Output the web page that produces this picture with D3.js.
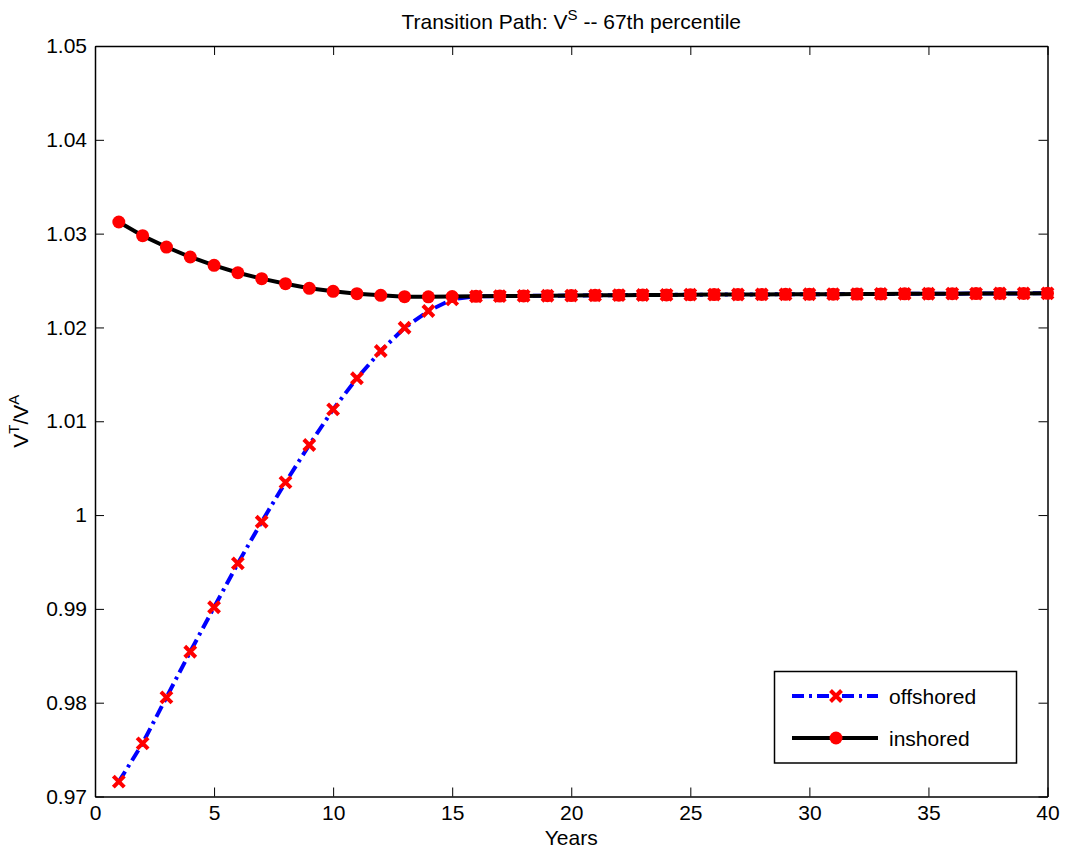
<!DOCTYPE html>
<html>
<head>
<meta charset="utf-8">
<script src="https://cdn.jsdelivr.net/npm/d3@7"></script>
<style>
  body { margin: 0; background: #fff; }
  svg text { font-family: "Liberation Sans", Arial, sans-serif; fill: #000; }
</style>
</head>
<body>
<svg id="chart" width="1065" height="857"></svg>
<script>
// data
var years = [1,2,3,4,5,6,7,8,9,10,11,12,13,14,15,16,17,18,19,20,
             21,22,23,24,25,26,27,28,29,30,31,32,33,34,35,36,37,38,39,40];

var offshored = [0.97158,0.97567,0.98057,0.98543,0.99017,0.99485,0.99929,1.00349,1.00747,1.01127,
                 1.01458,1.01749,1.01997,1.02175,1.02300,1.02332,1.02334,1.02336,1.02338,1.02340,
                 1.02342,1.02344,1.02346,1.02347,1.02349,1.02350,1.02351,1.02352,1.02353,1.02354,
                 1.02355,1.02356,1.02357,1.02358,1.02359,1.02360,1.02361,1.02362,1.02363,1.02364];

var inshored = [1.03124,1.02978,1.02857,1.02751,1.02662,1.02583,1.02520,1.02466,1.02417,1.02385,
                1.02360,1.02342,1.02328,1.02326,1.02330,1.02332,1.02334,1.02336,1.02338,1.02340,
                1.02342,1.02344,1.02346,1.02347,1.02349,1.02350,1.02351,1.02352,1.02353,1.02354,
                1.02355,1.02356,1.02357,1.02358,1.02359,1.02360,1.02361,1.02362,1.02363,1.02364];

var xTicks = [0,5,10,15,20,25,30,35,40];
var xTickLabels = ["0","5","10","15","20","25","30","35","40"];
var yTicks = [0.97,0.98,0.99,1.00,1.01,1.02,1.03,1.04,1.05];
var yTickLabels = ["0.97","0.98","0.99","1","1.01","1.02","1.03","1.04","1.05"];

var seriesNames = ["offshored","inshored"];

var plot = {left: 95, top: 46, right: 1047.5, bottom: 796.5};

var svg = d3.select("#chart");

var xScale = d3.scaleLinear().domain([0,40]).range([plot.left, plot.right]);
var yScale = d3.scaleLinear().domain([0.97,1.05]).range([plot.bottom, plot.top]);

// axes (ticks point inward like matlab)
var bottomAxis = d3.axisBottom(xScale).tickValues(xTicks)
                   .tickFormat(function(d,i){return xTickLabels[i];})
                   .tickSizeInner(-9).tickSizeOuter(0).tickPadding(9);
var topAxis = d3.axisTop(xScale).tickValues(xTicks).tickFormat("")
                .tickSizeInner(-9).tickSizeOuter(0);
var leftAxis = d3.axisLeft(yScale).tickValues(yTicks)
                 .tickFormat(function(d,i){return yTickLabels[i];})
                 .tickSizeInner(-9).tickSizeOuter(0).tickPadding(8);
var rightAxis = d3.axisRight(yScale).tickValues(yTicks).tickFormat("")
                  .tickSizeInner(-9).tickSizeOuter(0);

function styleAxis(g) {
  g.selectAll("path.domain").attr("stroke","#000").attr("stroke-width",1.5);
  g.selectAll(".tick line").attr("stroke","#000").attr("stroke-width",1);
  g.selectAll(".tick text").attr("font-size",21)
   .attr("font-family","Liberation Sans, Arial, sans-serif").attr("fill","#000");
}

svg.append("g").attr("transform","translate(0,"+plot.bottom+")").call(bottomAxis).call(styleAxis);
svg.append("g").attr("transform","translate(0,"+plot.top+")").call(topAxis).call(styleAxis);
svg.append("g").attr("transform","translate("+plot.left+",0)").call(leftAxis).call(styleAxis);
svg.append("g").attr("transform","translate("+plot.right+",0)").call(rightAxis).call(styleAxis);

// lines
var line = d3.line()
             .x(function(d,i){return xScale(years[i]);})
             .y(function(d){return yScale(d);});

var crossPath = "M-5.5,-5.5L5.5,5.5M-5.5,5.5L5.5,-5.5";

// offshored: blue dash-dot with red crosses
svg.append("path")
   .datum(offshored)
   .attr("d", line)
   .attr("fill","none")
   .attr("stroke","#0000ff")
   .attr("stroke-width",4)
   .attr("stroke-dasharray","12,5,3,5");

svg.append("g").selectAll("path")
   .data(offshored)
   .enter()
   .append("path")
   .attr("transform", function(d,i){return "translate("+xScale(years[i])+","+yScale(d)+")";})
   .attr("d", crossPath)
   .attr("stroke","#ff0000")
   .attr("stroke-width",4)
   .attr("fill","none");

// inshored: black solid with red dots
svg.append("path")
   .datum(inshored)
   .attr("d", line)
   .attr("fill","none")
   .attr("stroke","#000")
   .attr("stroke-width",4);

svg.append("g").selectAll("circle")
   .data(inshored)
   .enter()
   .append("circle")
   .attr("cx", function(d,i){return xScale(years[i]);})
   .attr("cy", function(d){return yScale(d);})
   .attr("r", 6.5)
   .attr("fill","#ff0000");

// title
var title = svg.append("text")
   .attr("x", (plot.left+plot.right)/2)
   .attr("y", 29)
   .attr("text-anchor","middle")
   .attr("font-size",21);
title.append("tspan").text("Transition Path: V");
title.append("tspan").attr("dy",-9).attr("font-size",15).text("S");
title.append("tspan").attr("dy",9).text(" -- 67th percentile");

// x label
svg.append("text")
   .attr("x", (plot.left+plot.right)/2)
   .attr("y", 845)
   .attr("text-anchor","middle")
   .attr("font-size",21)
   .text("Years");

// y label
var ylab = svg.append("text")
   .attr("transform","translate(28,"+((plot.top+plot.bottom)/2)+") rotate(-90)")
   .attr("text-anchor","middle")
   .attr("font-size",21);
ylab.append("tspan").text("V");
ylab.append("tspan").attr("dy",-9).attr("font-size",15).text("T");
ylab.append("tspan").attr("dy",9).text("/V");
ylab.append("tspan").attr("dy",-9).attr("font-size",15).text("A");

// legend
var legend = svg.append("g");
legend.append("rect")
      .attr("x",774.5).attr("y",671.5)
      .attr("width",242).attr("height",91.5)
      .attr("fill","#fff").attr("stroke","#000").attr("stroke-width",1.5);

var legendRows = [696, 738];
seriesNames.forEach(function(name,i){
  var y = legendRows[i];
  var l = legend.append("line")
        .attr("x1",792).attr("x2",878)
        .attr("y1",y).attr("y2",y)
        .attr("stroke-width",4);
  if (i === 0) {
    l.attr("stroke","#0000ff").attr("stroke-dasharray","12,5,3,5");
    legend.append("path")
          .attr("transform","translate(836,"+y+")")
          .attr("d",crossPath)
          .attr("stroke","#ff0000").attr("stroke-width",4).attr("fill","none");
  } else {
    l.attr("stroke","#000");
    legend.append("circle").attr("cx",836).attr("cy",y).attr("r",6.5).attr("fill","#ff0000");
  }
  legend.append("text")
        .attr("x",889).attr("y",y+7.5)
        .attr("font-size",21)
        .text(name);
});
</script>
</body>
</html>
